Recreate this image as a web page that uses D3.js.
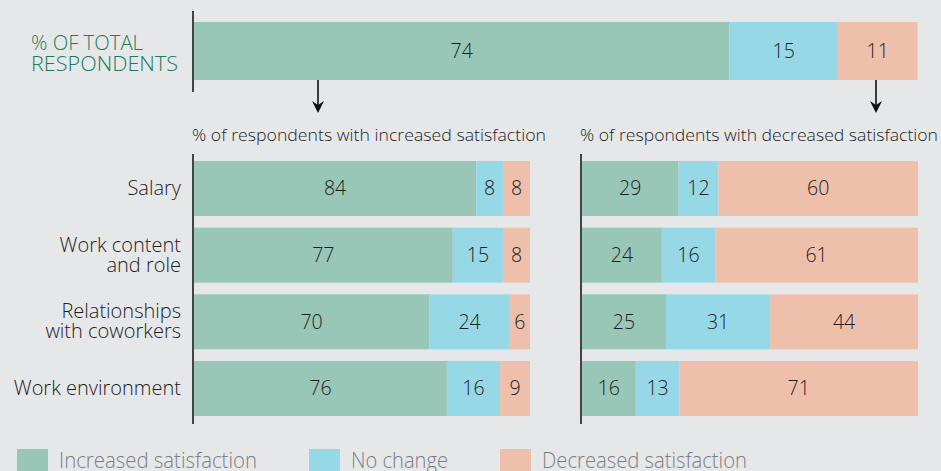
<!DOCTYPE html>
<html><head><meta charset="utf-8">
<script src="https://cdn.jsdelivr.net/npm/d3@7"></script>
<style>
html,body{margin:0;padding:0;background:#e6e7e9;}
svg{display:block;font-family:"Open Sans","Noto Sans",sans-serif;font-weight:300;}
</style></head>
<body>
<svg id="c" width="941" height="471"></svg>
<script>
const series = ["Increased satisfaction","No change","Decreased satisfaction"];
const colors = ["#98c6b7","#97d8e6","#eec0ab"];
const totalValues = [74,15,11];
const categories = ["Salary","Work content and role","Relationships with coworkers","Work environment"];
const categoryLines = [["Salary"],["Work content","and role"],["Relationships","with coworkers"],["Work environment"]];
const incIncreased = [84,77,70,76];
const incNoChange = [8,15,24,16];
const incDecreased = [8,8,6,9];
const decIncreased = [29,24,25,16];
const decNoChange = [12,16,31,13];
const decDecreased = [60,61,44,71];
const panelTitles = ["% of respondents with increased satisfaction","% of respondents with decreased satisfaction"];

const svg = d3.select("#c");
const axisColor = "#444";
const textColor = "#1e1e1e";

// Top bar
const xTop = d3.scaleLinear().domain([0, d3.sum(totalValues)]).range([194, 917.5]);
let acc = 0;
const topSegs = totalValues.map((v,i)=>{const s={x0:acc,x1:acc+v,v,i};acc+=v;return s;});
svg.selectAll("rect.top").data(topSegs).join("rect")
  .attr("x",d=>xTop(d.x0)).attr("width",d=>xTop(d.x1)-xTop(d.x0))
  .attr("y",22).attr("height",58).attr("fill",d=>colors[d.i]);
svg.selectAll("text.top").data(topSegs).join("text")
  .attr("x",d=>(xTop(d.x0)+xTop(d.x1))/2).attr("y",51).attr("dy","0.35em")
  .attr("text-anchor","middle").attr("font-size",19.5).attr("fill",textColor).text(d=>d.v);
svg.append("line").attr("x1",193).attr("x2",193).attr("y1",11).attr("y2",92)
  .attr("stroke",axisColor).attr("stroke-width",2);
const tt = svg.append("text").attr("fill","#1f7a5c").attr("font-size",20.5);
tt.append("tspan").attr("x",31).attr("y",50).attr("textLength",112).attr("lengthAdjust","spacingAndGlyphs").text("% OF TOTAL");
tt.append("tspan").attr("x",31).attr("y",71).attr("textLength",147).attr("lengthAdjust","spacingAndGlyphs").text("RESPONDENTS");

// arrows
const arrowX = [xTop(0) + 124, 876];
arrowX.forEach(ax=>{
  svg.append("line").attr("x1",ax).attr("x2",ax).attr("y1",80).attr("y2",106)
    .attr("stroke","#111").attr("stroke-width",1.6);
  svg.append("path").attr("d",`M${ax-6},${101} L${ax},${113} L${ax+6},${101} L${ax},${105} Z`).attr("fill","#111");
});

// Panels
const y = d3.scaleBand().domain(categories).range([161, 416]).paddingInner(0.175).paddingOuter(0);
const panels = [
  {x0:194, title:panelTitles[0], data:[incIncreased,incNoChange,incDecreased]},
  {x0:582, title:panelTitles[1], data:[decIncreased,decNoChange,decDecreased]}
];
const panelWidth = 336;
panels.forEach(p=>{
  const g = svg.append("g");
  categories.forEach((c,ci)=>{
    const vals = p.data.map(s=>s[ci]);
    const xs = d3.scaleLinear().domain([0,d3.sum(vals)]).range([p.x0,p.x0+panelWidth]);
    let a=0;
    vals.forEach((v,si)=>{
      const x0=xs(a), x1=xs(a+v); a+=v;
      g.append("rect").attr("x",x0).attr("width",x1-x0).attr("y",y(c)).attr("height",y.bandwidth())
        .attr("fill",colors[si]);
      g.append("text").attr("x",(x0+x1)/2).attr("y",y(c)+y.bandwidth()/2).attr("dy","0.35em")
        .attr("text-anchor","middle").attr("font-size",19.5).attr("fill",textColor).text(v);
    });
  });
  g.append("line").attr("x1",p.x0-1).attr("x2",p.x0-1).attr("y1",154).attr("y2",424)
    .attr("stroke",axisColor).attr("stroke-width",2);
  g.append("text").attr("x",p.x0-2).attr("y",141).attr("font-size",17).attr("fill",textColor)
    .attr("textLength",p.x0===194?354:358).attr("lengthAdjust","spacingAndGlyphs").text(p.title);
});

// category labels
categories.forEach((c,ci)=>{
  const lines = categoryLines[ci];
  const cy = y(c)+y.bandwidth()/2;
  const t = svg.append("text").attr("text-anchor","end").attr("font-size",20).attr("fill",textColor);
  lines.forEach((l,li)=>{
    t.append("tspan").attr("x",181).attr("y",cy + (li-(lines.length-1)/2)*20).attr("dy","0.33em").text(l);
  });
});

// legend
const legX = [17,309,500];
const legTextW = [198,97,205];
series.forEach((s,i)=>{
  svg.append("rect").attr("x",legX[i]).attr("y",449).attr("width",31).attr("height",22).attr("fill",colors[i]);
  svg.append("text").attr("x",legX[i]+42).attr("y",468).attr("font-size",22).attr("fill","#7a7f84")
    .attr("font-weight",300).attr("textLength",legTextW[i]).attr("lengthAdjust","spacingAndGlyphs").text(s);
});
</script>
</body></html>
